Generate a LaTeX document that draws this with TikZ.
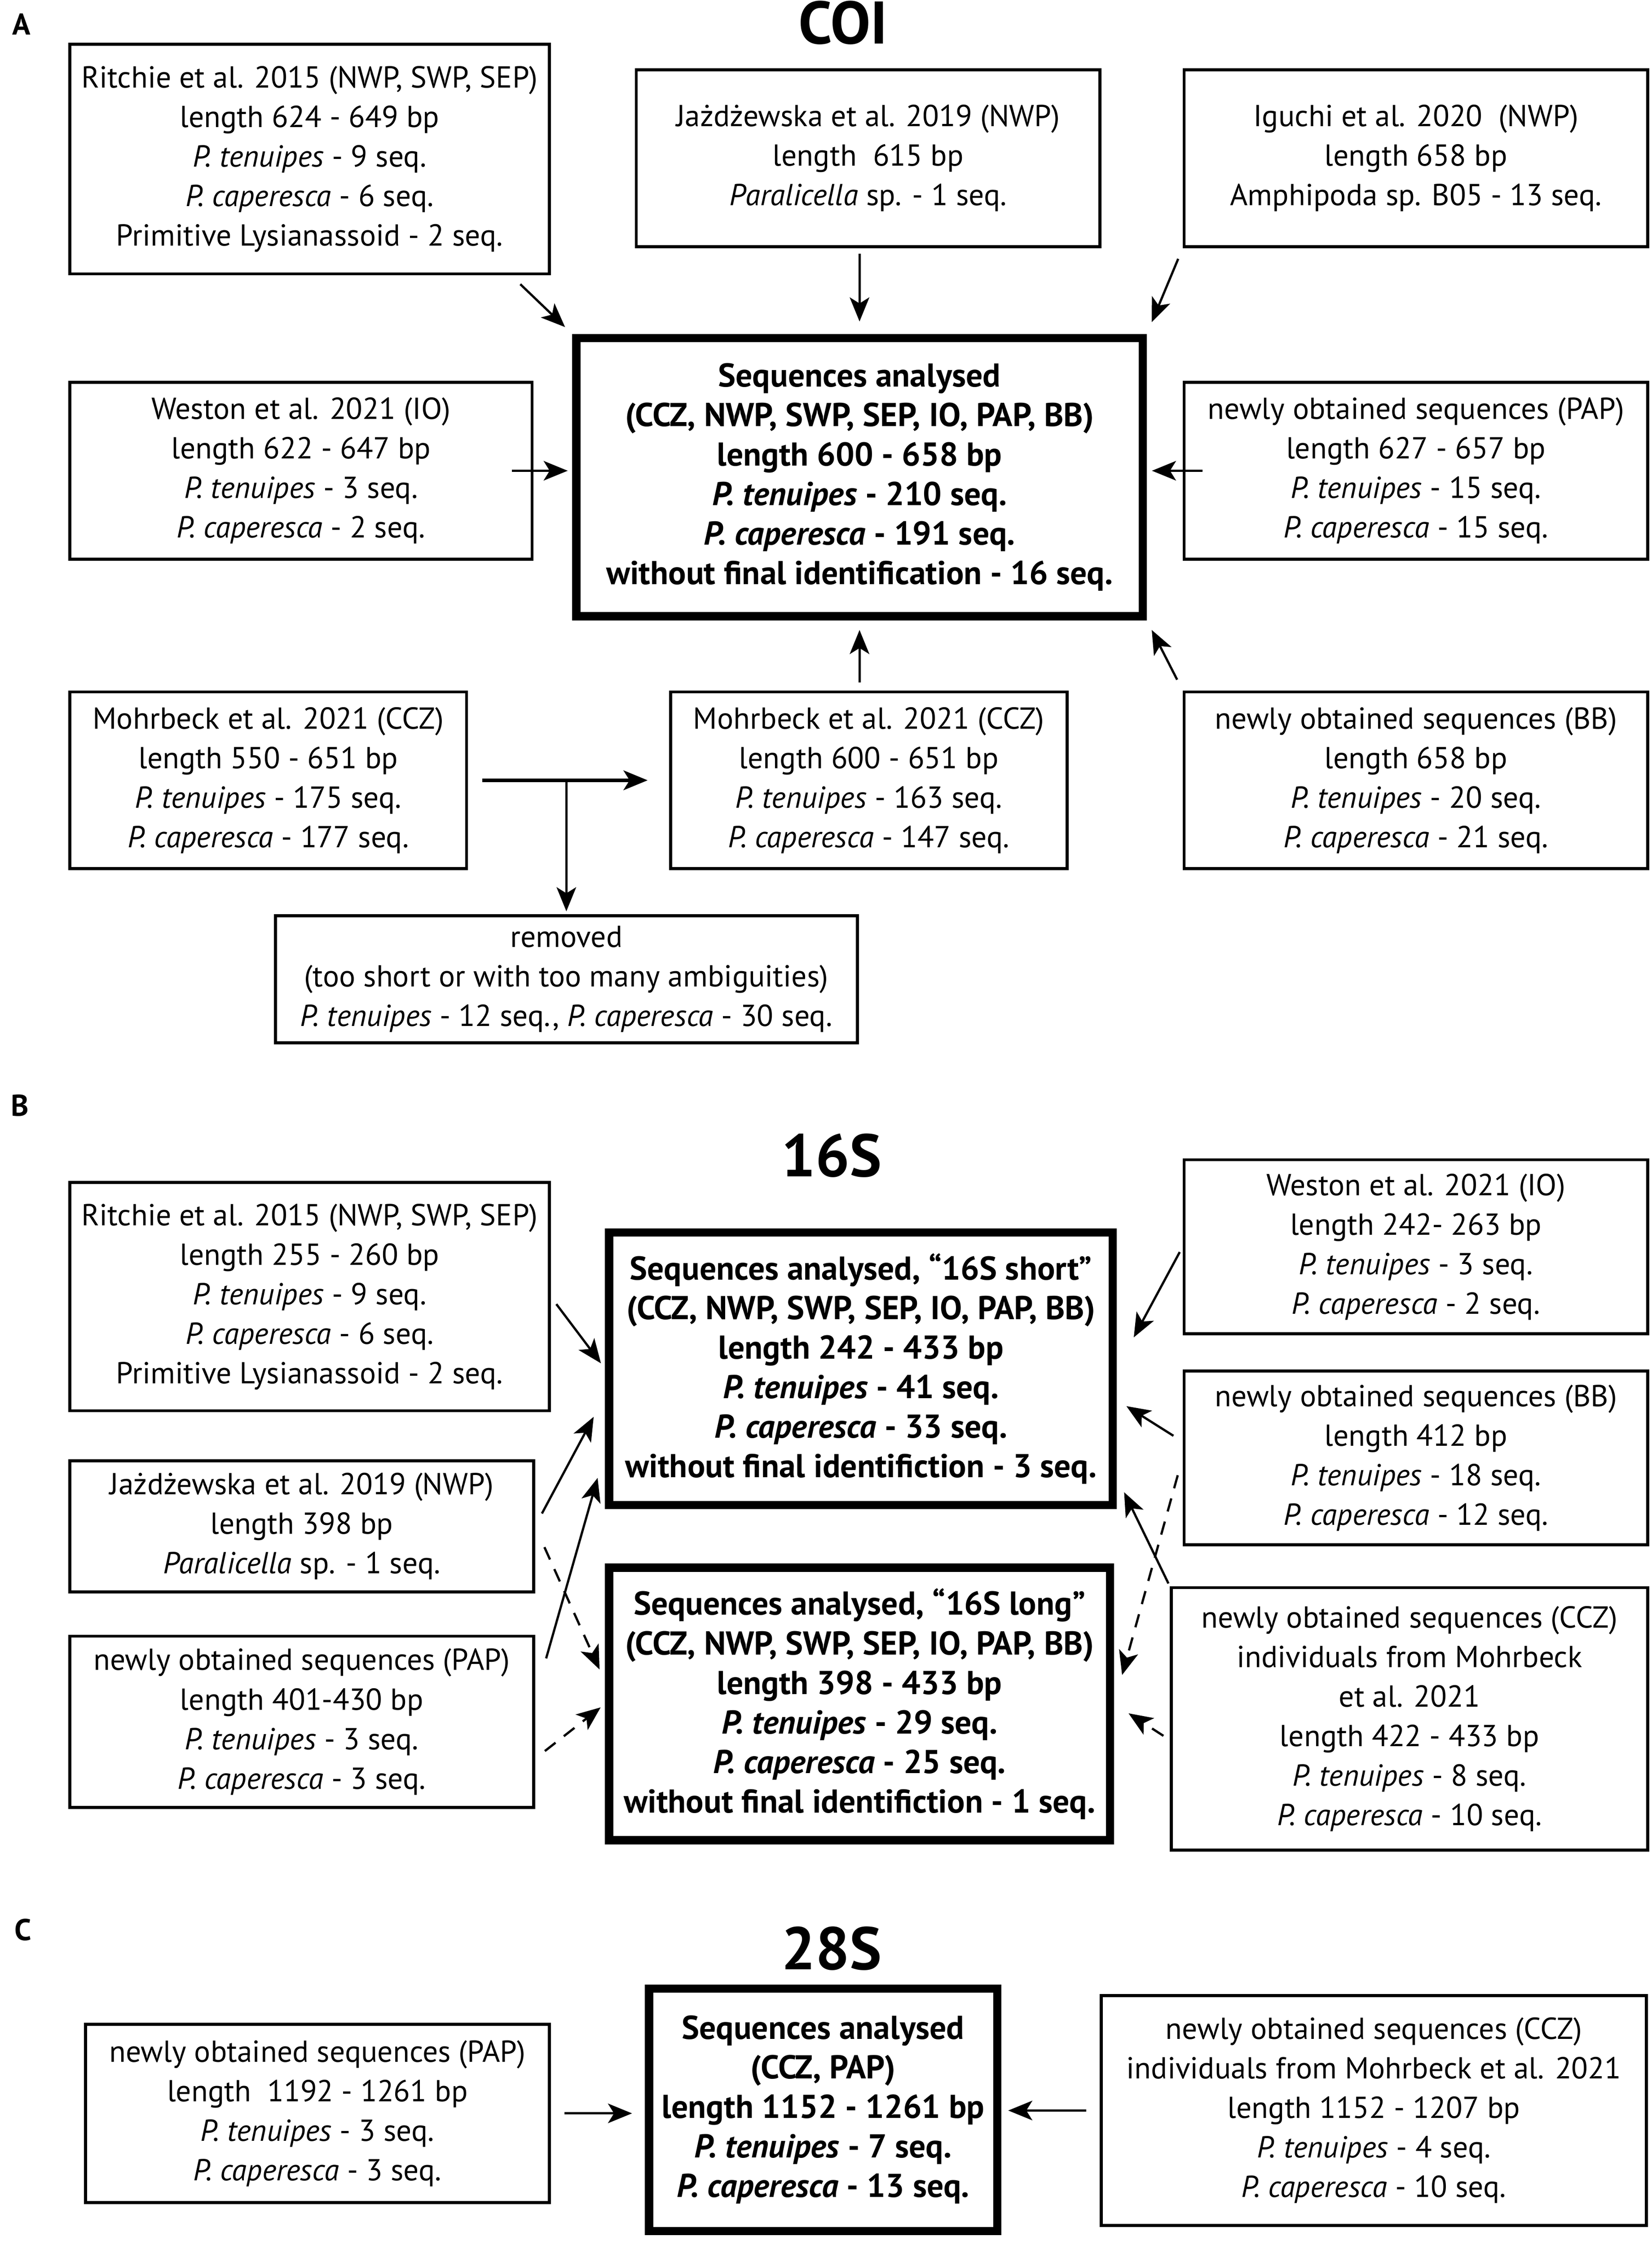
\documentclass[tikz,border=0pt]{standalone}
\usepackage{fontspec}
\setmainfont{PT Sans}
\usepackage{tikz}
\usetikzlibrary{arrows.meta}
\newcommand{\unitpx}{0.3336mm}

\begin{document}
\begin{tikzpicture}[x=0.3336mm, y=-0.3336mm, >={Stealth[length=16pt,width=13pt,inset=4pt]}]
  \tikzstyle{source}=[draw, line width=2pt, inner sep=0pt, align=center,
font=\fontsize{20.2}{26.3}\selectfont]
  \tikzstyle{result}=[source, line width=5.5pt, font=\fontsize{22}{26.3}\selectfont\bfseries]
  \tikzstyle{gene}=[font=\fontsize{40}{44}\selectfont\bfseries]
  \tikzstyle{panel}=[font=\fontsize{20}{22}\selectfont\bfseries]
  \tikzstyle{link}=[->, line width=1.5pt]
  \tikzstyle{maybe}=[link, dash pattern=on 9pt off 7pt]

  \useasboundingbox (0,0) rectangle (1158,1573.8);

  % A: COI
  \node[panel] (A_p) at (15,17) {A};
  \node[gene] (A_t) at (591,16) {COI};
  \node[result, minimum width=397*\unitpx, minimum height=195*\unitpx] (A_0) at (602.5,334.5)
    {Sequences analysed\\ (CCZ, NWP, SWP, SEP, IO, PAP, BB)\\ length 600 - 658 bp\\
     \textit{P. tenuipes} - 210 seq.\\ \textit{P. caperesca} - 191 seq.\\
     without final identification - 16 seq.};
  \node[source, minimum width=336*\unitpx, minimum height=161*\unitpx] (A_1) at (217,111.5)
    {Ritchie et al. 2015 (NWP, SWP, SEP)\\ length 624 - 649 bp\\ \textit{P. tenuipes} - 9 seq.\\
     \textit{P. caperesca} - 6 seq.\\ Primitive Lysianassoid - 2 seq.};
  \node[source, minimum width=325*\unitpx, minimum height=124*\unitpx] (A_2) at (608.5,111)
    {Jażdżewska et al. 2019 (NWP)\\ length\ \ 615 bp\\ \textit{Paralicella} sp. - 1 seq.};
  \node[source, minimum width=325*\unitpx, minimum height=124*\unitpx] (A_3) at (992.5,111)
    {Iguchi et al. 2020\ \ (NWP)\\ length 658 bp\\ Amphipoda sp. B05 - 13 seq.};
  \node[source, minimum width=324*\unitpx, minimum height=124*\unitpx] (A_4) at (211,330)
    {Weston et al. 2021 (IO)\\ length 622 - 647 bp\\ \textit{P. tenuipes} - 3 seq.\\
     \textit{P. caperesca} - 2 seq.};
  \node[source, minimum width=325*\unitpx, minimum height=124*\unitpx] (A_5) at (992.5,330)
    {newly obtained sequences (PAP)\\ length 627 - 657 bp\\ \textit{P. tenuipes} - 15 seq.\\
     \textit{P. caperesca} - 15 seq.};
  \node[source, minimum width=278*\unitpx, minimum height=124*\unitpx] (A_6) at (188,547)
    {Mohrbeck et al. 2021 (CCZ)\\ length 550 - 651 bp\\ \textit{P. tenuipes} - 175 seq.\\
     \textit{P. caperesca} - 177 seq.};
  \node[source, minimum width=278*\unitpx, minimum height=124*\unitpx] (A_7) at (609,547)
    {Mohrbeck et al. 2021 (CCZ)\\ length 600 - 651 bp\\ \textit{P. tenuipes} - 163 seq.\\
     \textit{P. caperesca} - 147 seq.};
  \node[source, minimum width=325*\unitpx, minimum height=124*\unitpx] (A_8) at (992.5,547)
    {newly obtained sequences (BB)\\ length 658 bp\\ \textit{P. tenuipes} - 20 seq.\\
     \textit{P. caperesca} - 21 seq.};
  \node[source, minimum width=408*\unitpx, minimum height=89*\unitpx] (A_9) at (397,686.5)
    {removed\\ (too short or with too many ambiguities)\\
     \textit{P. tenuipes} - 12 seq., \textit{P. caperesca} - 30 seq.};

  \draw[link, shorten <=8.5pt, shorten >=6.6pt] (A_1.-30) -- (A_0.north west);
  \draw[link, shorten <=3.5pt, shorten >=8.3pt] (A_2.south -| A_0.north) -- (A_0.north);
  \draw[link, shorten <=7.6pt, shorten >=8.5pt] (A_3.south west) -- (A_0.north east);
  \draw[link, shorten <=-14.6pt, shorten >=3pt] (A_4.east) -- (A_4.east -| A_0.west);
  \draw[link, shorten <=-13.3pt, shorten >=3.4pt] (A_5.west) -- (A_5.west -| A_0.east);
  \draw[link, shorten <=5.3pt, shorten >=6.4pt] (A_7.north -| A_0.south) -- (A_0.south);
  \draw[link, shorten <=8pt, shorten >=7.2pt] (A_8.north west) -- (A_0.south east);
  \draw[link, line width=2.5pt, shorten <=9.5pt, shorten >=14.2pt] (A_6.east) -- (A_7.west);
  \draw[link, shorten >=2pt] (A_9.north |- A_6.east) -- (A_9.north);

  % B: 16S
  \node[panel] (B_p) at (14,775) {B};
  \node[gene] (B_t) at (583,810) {16S};
  \node[result, minimum width=353*\unitpx, minimum height=191*\unitpx] (B_0) at (603.5,959.5)
    {Sequences analysed, “16S short”\\ (CCZ, NWP, SWP, SEP, IO, PAP, BB)\\ length 242 - 433 bp\\
     \textit{P. tenuipes} - 41 seq.\\ \textit{P. caperesca} - 33 seq.\\
     without final identifiction - 3 seq.};
  \node[result, minimum width=351*\unitpx, minimum height=191*\unitpx] (B_9) at (602.5,1194.5)
    {Sequences analysed, “16S long”\\ (CCZ, NWP, SWP, SEP, IO, PAP, BB)\\ length 398 - 433 bp\\
     \textit{P. tenuipes} - 29 seq.\\ \textit{P. caperesca} - 25 seq.\\
     without final identifiction - 1 seq.};
  \node[source, minimum width=336*\unitpx, minimum height=160*\unitpx] (B_1) at (217,909)
    {Ritchie et al. 2015 (NWP, SWP, SEP)\\ length 255 - 260 bp\\ \textit{P. tenuipes} - 9 seq.\\
     \textit{P. caperesca} - 6 seq.\\ Primitive Lysianassoid - 2 seq.};
  \node[source, minimum width=325*\unitpx, minimum height=92*\unitpx] (B_2) at (211.5,1070)
    {Jażdżewska et al. 2019 (NWP)\\ length 398 bp\\ \textit{Paralicella} sp. - 1 seq.};
  \node[source, minimum width=325*\unitpx, minimum height=120*\unitpx] (B_3) at (211.5,1207)
    {newly obtained sequences (PAP)\\ length 401-430 bp\\ \textit{P. tenuipes} - 3 seq.\\
     \textit{P. caperesca} - 3 seq.};
  \node[source, minimum width=325*\unitpx, minimum height=122*\unitpx] (B_4) at (992.5,874)
    {Weston et al. 2021 (IO)\\ length 242- 263 bp\\ \textit{P. tenuipes} - 3 seq.\\
     \textit{P. caperesca} - 2 seq.};
  \node[source, minimum width=325*\unitpx, minimum height=122*\unitpx] (B_5) at (992.5,1022)
    {newly obtained sequences (BB)\\ length 412 bp\\ \textit{P. tenuipes} - 18 seq.\\
     \textit{P. caperesca} - 12 seq.};
  \node[source, minimum width=334*\unitpx, minimum height=184*\unitpx] (B_6) at (988,1205)
    {newly obtained sequences (CCZ)\\ individuals from Mohrbeck\\ et al. 2021\\
     length 422 - 433 bp\\ \textit{P. tenuipes} - 8 seq.\\ \textit{P. caperesca} - 10 seq.};

  \draw[link, shorten <=6.2pt, shorten >=4.5pt] (B_1.east) -- (B_0.west);
  \draw[link, shorten <=9.7pt, shorten >=16pt] (B_2.east) -- (B_0.186);
  \draw[maybe, shorten <=15.2pt, shorten >=8.9pt] (B_2.east) -- (B_9.175);
  \draw[link, shorten <=26.9pt, shorten >=18pt] (B_3.6) -- (B_0.198);
  \draw[maybe, shorten <=8.3pt, shorten >=3.7pt] (B_3.-9) -- (B_9.west);
  \draw[link, shorten <=4pt, shorten >=23.7pt] (B_4.west) -- (B_0.east);
  \draw[link, shorten <=7.2pt, shorten >=7.5pt] (B_5.176) -- (B_0.-7.5);
  \draw[maybe, shorten <=12pt, shorten >=20pt] (B_5.west) -- (B_9.east);
  \draw[link, shorten <=2pt, shorten >=11pt] (B_6.north west) -- (B_0.-23);
  \draw[maybe, shorten <=5pt, shorten >=11.5pt] (B_6.185) -- (B_9.east);

  % C: 28S
  \node[panel] (C_p) at (16,1353) {C};
  \node[gene] (C_t) at (583,1366) {28S};
  \node[result, minimum width=244*\unitpx, minimum height=170*\unitpx] (C_0) at (577,1479)
    {Sequences analysed\\ (CCZ, PAP)\\ length 1152 - 1261 bp\\
     \textit{P. tenuipes} - 7 seq.\\ \textit{P. caperesca} - 13 seq.};
  \node[source, minimum width=325*\unitpx, minimum height=125*\unitpx] (C_1) at (222.5,1481.5)
    {newly obtained sequences (PAP)\\ length\ \ 1192 - 1261 bp\\ \textit{P. tenuipes} - 3 seq.\\
     \textit{P. caperesca} - 3 seq.};
  \node[source, minimum width=382*\unitpx, minimum height=161*\unitpx] (C_2) at (963,1479.5)
    {newly obtained sequences (CCZ)\\ individuals from Mohrbeck et al. 2021\\
     length 1152 - 1207 bp\\ \textit{P. tenuipes} - 4 seq.\\ \textit{P. caperesca} - 10 seq.};

  \draw[link, shorten <=9.1pt, shorten >=8.6pt] (C_1.east) -- (C_1.east -| C_0.west);
  \draw[link, shorten <=9.2pt, shorten >=4.6pt] (C_2.west) -- (C_2.west -| C_0.east);
\end{tikzpicture}
\end{document}
